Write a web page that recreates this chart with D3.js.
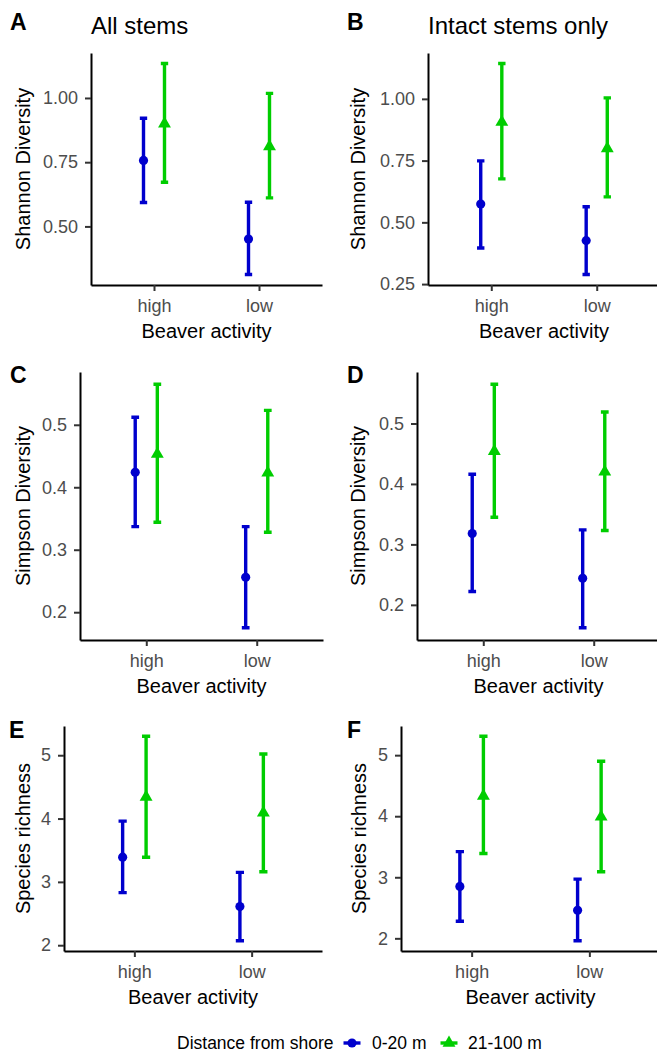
<!DOCTYPE html>
<html>
<head>
<meta charset="utf-8">
<script src="https://cdn.jsdelivr.net/npm/d3@7"></script>
<style>
  body { margin: 0; background: #fff; }
  text { font-family: "Liberation Sans", Arial, sans-serif; }
</style>
</head>
<body>
<script>
const W = 657, H = 1052
// categories
const activity = ["high", "low"]
const distance = ["0-20 m", "21-100 m"]
const colors = ["#0000CD", "#00CD00"]

// rows per activity level: [mean, lower, upper]
const shannonAllNear = [[0.757, 0.593, 0.921], [0.451, 0.313, 0.594]]
const shannonAllFar = [[0.900, 0.672, 1.134], [0.811, 0.611, 1.018]]
const shannonIntactNear = [[0.574, 0.396, 0.749], [0.426, 0.289, 0.563]]
const shannonIntactFar = [[0.906, 0.676, 1.143], [0.799, 0.603, 1.004]]
const simpsonAllNear = [[0.424, 0.337, 0.512], [0.256, 0.175, 0.337]]
const simpsonAllFar = [[0.453, 0.344, 0.565], [0.423, 0.328, 0.523]]
const simpsonIntactNear = [[0.318, 0.222, 0.416], [0.244, 0.162, 0.324]]
const simpsonIntactFar = [[0.454, 0.345, 0.565], [0.420, 0.323, 0.519]]
const richAllNear = [[3.39, 2.83, 3.96], [2.61, 2.07, 3.15]]
const richAllFar = [[4.34, 3.39, 5.30], [4.09, 3.16, 5.02]]
const richIntactNear = [[2.85, 2.28, 3.42], [2.46, 1.96, 2.97]]
const richIntactFar = [[4.33, 3.39, 5.31], [3.99, 3.09, 4.90]]

// tick labels
const shannonAllTicks = [0.50, 0.75, 1.00]
const shannonIntactTicks = [0.25, 0.50, 0.75, 1.00]
const simpsonTicks = [0.2, 0.3, 0.4, 0.5]
const richTicks = [2, 3, 4, 5]

const panels = [
  {tag: "A", title: "All stems", ylab: "Shannon Diversity", ticks: shannonAllTicks, fmt: ".2f",
   series: [shannonAllNear, shannonAllFar], left: 91, right: 322, top: 53, bottom: 285, tagX: 10, tagY: 30, ylabX: 30},
  {tag: "B", title: "Intact stems only", ylab: "Shannon Diversity", ticks: shannonIntactTicks, fmt: ".2f",
   series: [shannonIntactNear, shannonIntactFar], left: 428, right: 660, top: 53, bottom: 285, tagX: 347, tagY: 30, ylabX: 365},
  {tag: "C", title: "", ylab: "Simpson Diversity", ticks: simpsonTicks, fmt: ".1f",
   series: [simpsonAllNear, simpsonAllFar], left: 80, right: 323, top: 372, bottom: 640, tagX: 10, tagY: 383, ylabX: 30},
  {tag: "D", title: "", ylab: "Simpson Diversity", ticks: simpsonTicks, fmt: ".1f",
   series: [simpsonIntactNear, simpsonIntactFar], left: 417, right: 660, top: 372, bottom: 640, tagX: 347, tagY: 383, ylabX: 365},
  {tag: "E", title: "", ylab: "Species richness", ticks: richTicks, fmt: "d",
   series: [richAllNear, richAllFar], left: 64, right: 322, top: 726, bottom: 951, tagX: 9, tagY: 738, ylabX: 30},
  {tag: "F", title: "", ylab: "Species richness", ticks: richTicks, fmt: "d",
   series: [richIntactNear, richIntactFar], left: 401, right: 660, top: 726, bottom: 951, tagX: 347, tagY: 738, ylabX: 366}
]

const svg = d3.select("body").append("svg").attr("width", W).attr("height", H)

function drawPanel(p){
  const g = svg.append("g")
  const x = d3.scalePoint().domain(activity).range([p.left, p.right]).padding(0.6)
  const vals = p.series.flatMap(s => s.flatMap(r => [r[1], r[2]]))
  const ext = d3.extent(vals)
  const pad = (ext[1] - ext[0]) * 0.05
  const y = d3.scaleLinear().domain([ext[0] - pad, ext[1] + pad]).range([p.bottom, p.top])
  const step = x.step()
  const cap = step * 0.035

  // axes
  const xa = g.append("g").attr("transform", "translate(0," + p.bottom + ")")
    .call(d3.axisBottom(x).tickSize(6).tickSizeOuter(0).tickPadding(8))
  const ya = g.append("g").attr("transform", "translate(" + p.left + ",0)")
    .call(d3.axisLeft(y).tickValues(p.ticks).tickFormat(d3.format(p.fmt)).tickSize(6).tickSizeOuter(0).tickPadding(7))
  for (const a of [xa, ya]) {
    a.select(".domain").attr("stroke", "#000").attr("stroke-width", 2)
    a.selectAll(".tick line").attr("stroke", "#333").attr("stroke-width", 2)
    a.selectAll(".tick text").attr("fill", "#4D4D4D").style("font-size", "18px")
      .style("font-family", "'Liberation Sans', Arial, sans-serif")
  }

  p.series.forEach((rows, si) => {
    const off = (si === 0 ? -0.1 : 0.1) * step
    const sg = g.append("g")
    sg.selectAll("path.err").data(rows).enter().append("path")
      .attr("d", (d, i) => {
        const cx = x(activity[i]) + off
        return "M" + (cx - cap) + "," + y(d[2]) + "H" + (cx + cap) +
               "M" + cx + "," + y(d[2]) + "V" + y(d[1]) +
               "M" + (cx - cap) + "," + y(d[1]) + "H" + (cx + cap)
      })
      .attr("fill", "none").attr("stroke", colors[si]).attr("stroke-width", 3.4)
    const sym = d3.symbol().type(si === 0 ? d3.symbolCircle : d3.symbolTriangle).size(si === 0 ? 66 : 72)
    sg.selectAll("path.pt").data(rows).enter().append("path")
      .attr("d", sym)
      .attr("transform", (d, i) => "translate(" + (x(activity[i]) + off) + "," + y(d[0]) + ")")
      .attr("fill", colors[si])
  })

  // labels
  g.append("text").attr("x", (p.left + p.right) / 2).attr("y", p.bottom + 53)
    .attr("text-anchor", "middle").style("font-size", "20px").text("Beaver activity")
  g.append("text").attr("transform", "translate(" + p.ylabX + "," + (p.top + p.bottom) / 2 + ") rotate(-90)")
    .attr("text-anchor", "middle").style("font-size", "20px").text(p.ylab)
  g.append("text").attr("x", p.tagX).attr("y", p.tagY).style("font-size", "23px")
    .style("font-weight", "bold").text(p.tag)
  if (p.title) {
    g.append("text").attr("x", p.left).attr("y", 34).style("font-size", "24px").text(p.title)
  }
}

panels.forEach(drawPanel)

// legend
const leg = svg.append("g")
leg.append("text").attr("x", 177).attr("y", 1049).style("font-size", "17.5px").text("Distance from shore")
const keyX = [352, 449]
const labX = [372, 468]
distance.forEach((d, i) => {
  leg.append("line").attr("x1", keyX[i] - 8.5).attr("x2", keyX[i] + 8.5)
    .attr("y1", 1043).attr("y2", 1043).attr("stroke", colors[i]).attr("stroke-width", 3.4)
  leg.append("path").attr("d", d3.symbol().type(i === 0 ? d3.symbolCircle : d3.symbolTriangle).size(i === 0 ? 66 : 72))
    .attr("transform", "translate(" + keyX[i] + ",1043)").attr("fill", colors[i])
  leg.append("text").attr("x", labX[i]).attr("y", 1049).style("font-size", "17.5px").text(d)
})
</script>
</body>
</html>
